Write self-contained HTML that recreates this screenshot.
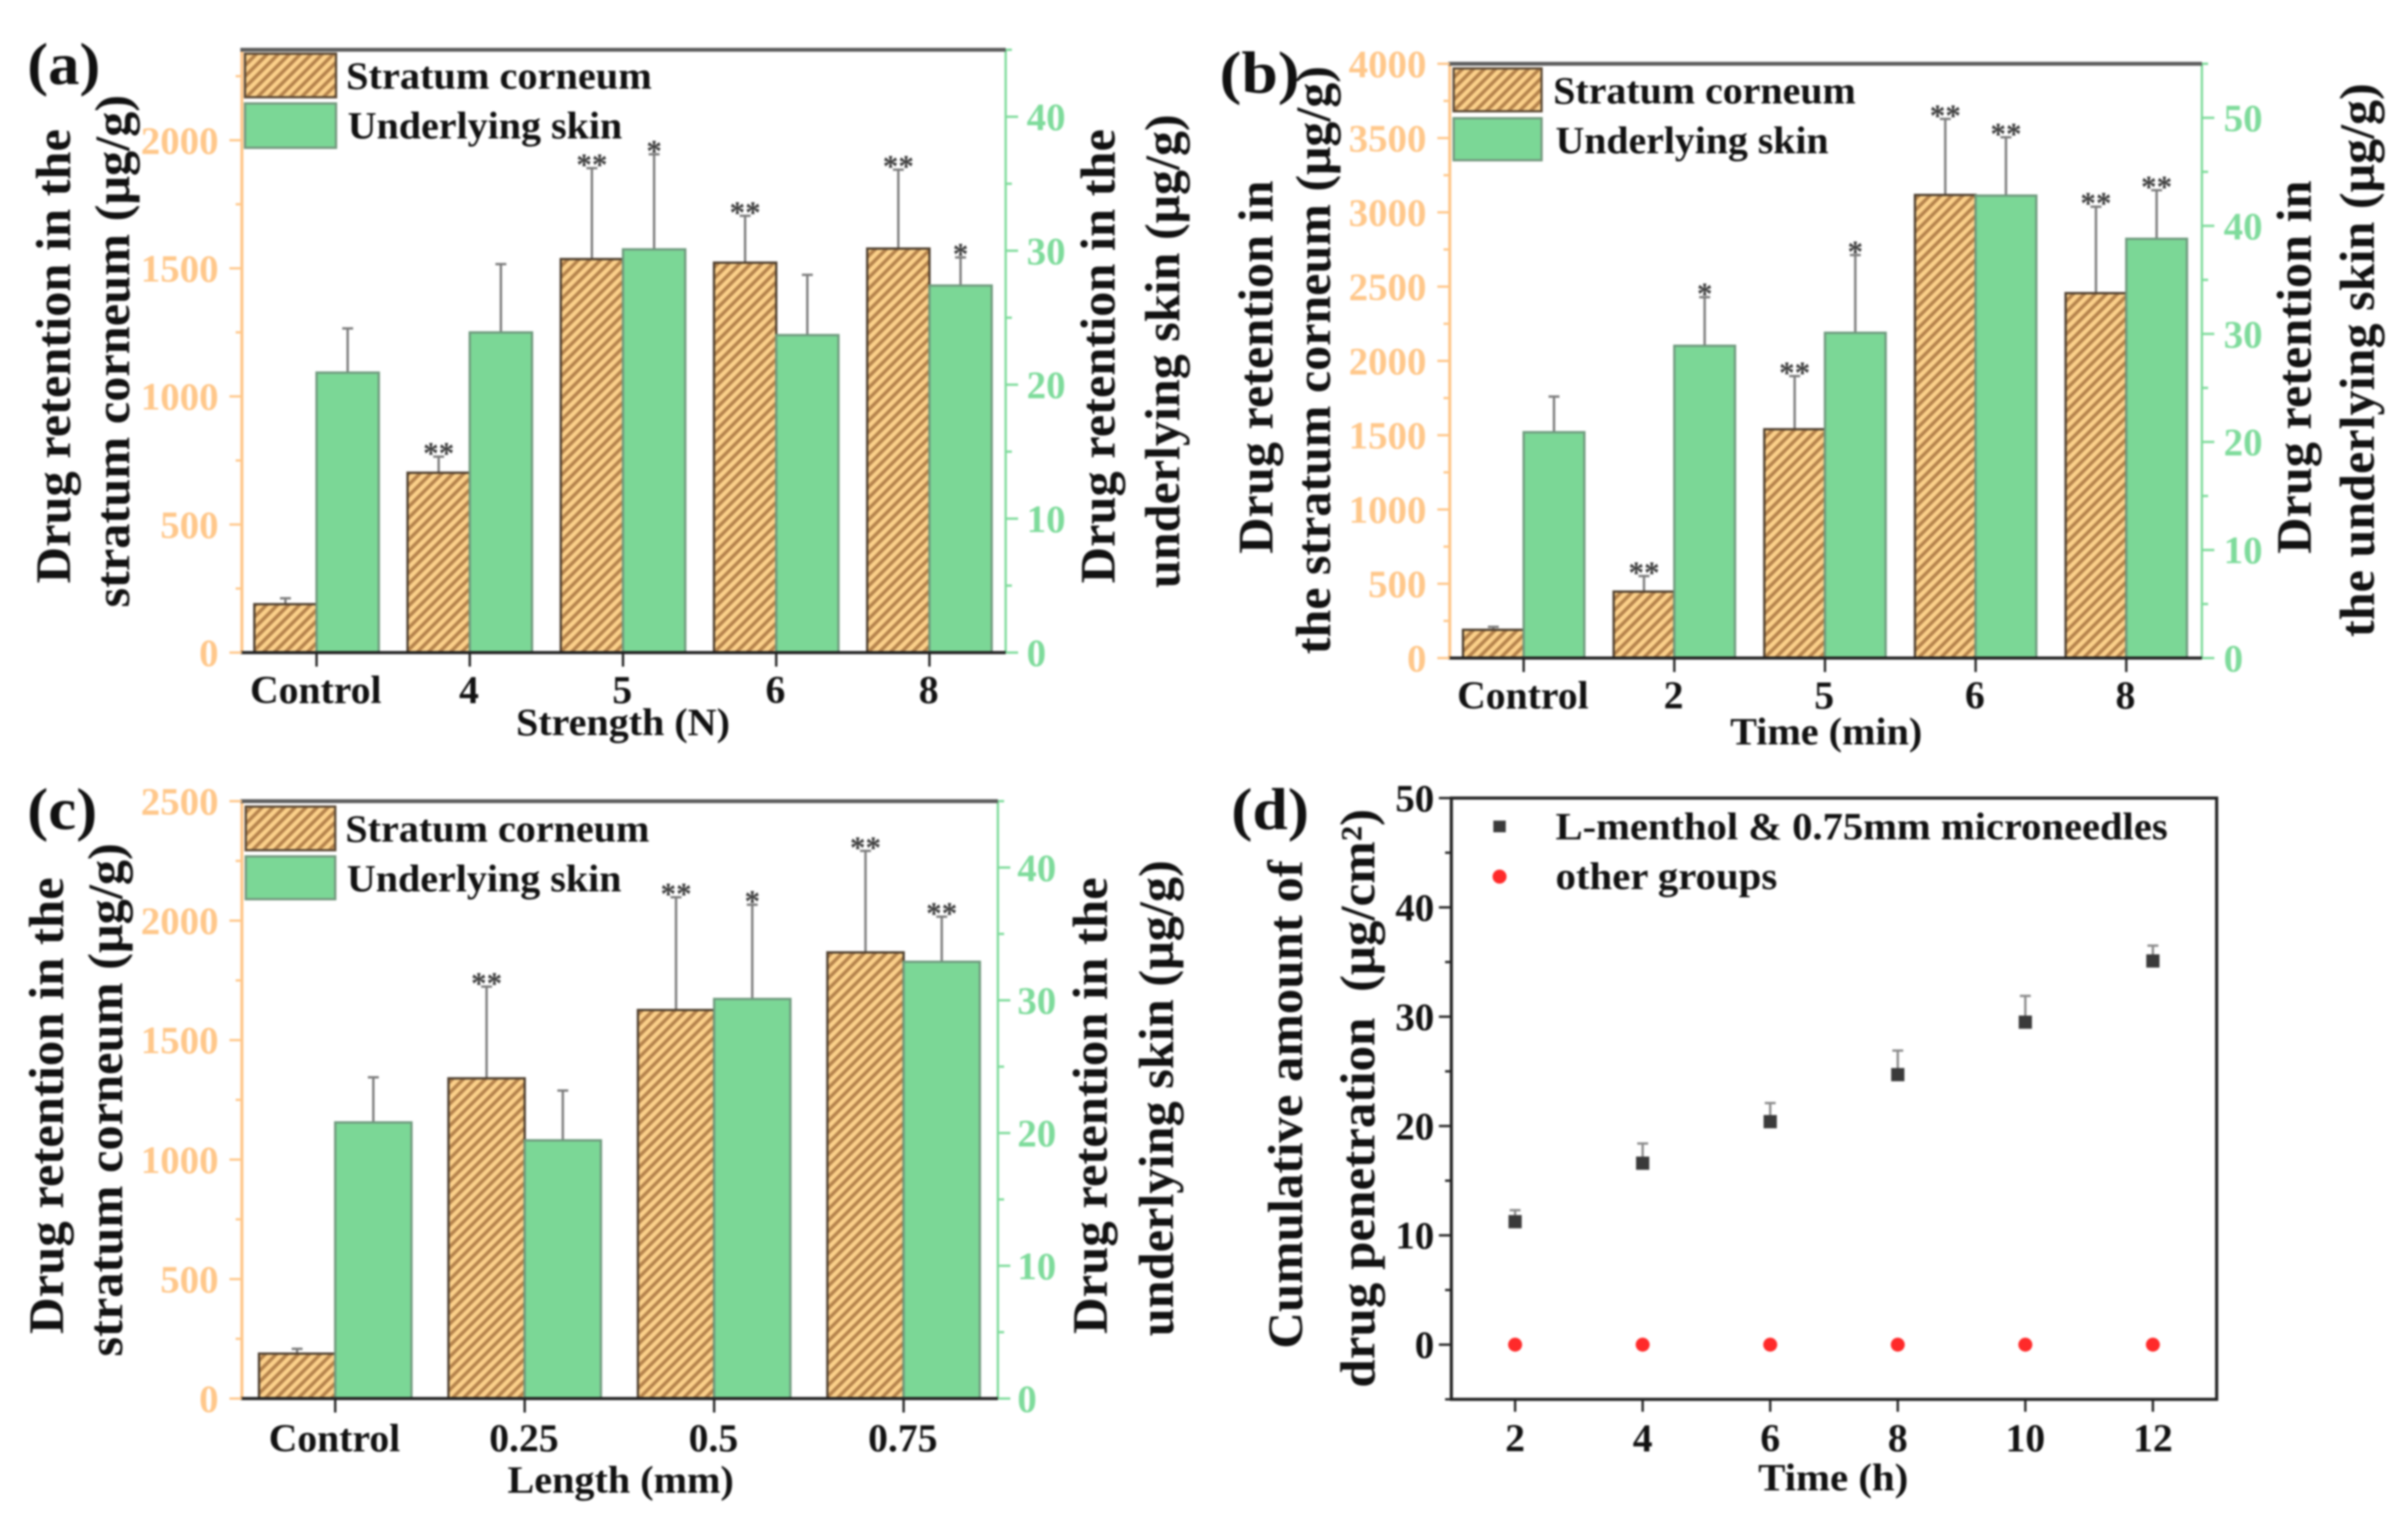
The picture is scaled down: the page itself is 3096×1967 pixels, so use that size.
<!DOCTYPE html>
<html>
<head>
<meta charset="utf-8">
<style>
html,body{margin:0;padding:0;background:#fff;width:3096px;height:1967px;overflow:hidden}
svg{display:block;filter:blur(1.2px)}
text{font-family:"Liberation Serif",serif;font-weight:bold;fill:#111}
</style>
</head>
<body>
<svg id="figure" xmlns="http://www.w3.org/2000/svg" width="3096" height="1967" viewBox="0 0 3096 1967">
<defs>
<pattern id="hatch" patternUnits="userSpaceOnUse" width="10" height="10" patternTransform="rotate(45)">
<rect width="10" height="10" fill="#fbd08a"></rect>
<rect x="0" width="4.5" height="10" fill="#b5834c"></rect>
</pattern>
</defs>
<rect width="3096" height="1967" fill="#ffffff"></rect>

<text x="35" y="108" font-size="76" textLength="94" lengthAdjust="spacingAndGlyphs">(a)</text>
<text x="1568" y="119" font-size="76" textLength="103" lengthAdjust="spacingAndGlyphs">(b)</text>
<text x="35" y="1066" font-size="76" textLength="90" lengthAdjust="spacingAndGlyphs">(c)</text>
<text x="1583" y="1066" font-size="76" textLength="100" lengthAdjust="spacingAndGlyphs">(d)</text>

<text transform="translate(90 750) rotate(-90)" font-size="64" textLength="584" lengthAdjust="spacingAndGlyphs">Drug retention in the</text>
<text transform="translate(166 781) rotate(-90)" font-size="64" textLength="659" lengthAdjust="spacingAndGlyphs">stratum corneum (μg/g)</text>
<text transform="translate(1433 750) rotate(-90)" font-size="64" textLength="584" lengthAdjust="spacingAndGlyphs">Drug retention in the</text>
<text transform="translate(1516 756) rotate(-90)" font-size="64" textLength="609" lengthAdjust="spacingAndGlyphs">underlying skin (μg/g)</text>

<text transform="translate(1636 712) rotate(-90)" font-size="64" textLength="480" lengthAdjust="spacingAndGlyphs">Drug retention in</text>
<text transform="translate(1710 841) rotate(-90)" font-size="64" textLength="756" lengthAdjust="spacingAndGlyphs">the stratum corneum (μg/g)</text>
<text transform="translate(2971 712) rotate(-90)" font-size="64" textLength="480" lengthAdjust="spacingAndGlyphs">Drug retention in</text>
<text transform="translate(3052 819) rotate(-90)" font-size="64" textLength="712" lengthAdjust="spacingAndGlyphs">the underlying skin (μg/g)</text>

<text transform="translate(81 1715) rotate(-90)" font-size="64" textLength="587" lengthAdjust="spacingAndGlyphs">Drug retention in the</text>
<text transform="translate(157 1744) rotate(-90)" font-size="64" textLength="660" lengthAdjust="spacingAndGlyphs">stratum corneum (μg/g)</text>
<text transform="translate(1423 1715) rotate(-90)" font-size="64" textLength="587" lengthAdjust="spacingAndGlyphs">Drug retention in the</text>
<text transform="translate(1508 1718) rotate(-90)" font-size="64" textLength="612" lengthAdjust="spacingAndGlyphs">underlying skin (μg/g)</text>

<text transform="translate(1674 1734) rotate(-90)" font-size="64" textLength="628" lengthAdjust="spacingAndGlyphs">Cumulative amount of</text>
<text transform="translate(1767 1784) rotate(-90)" font-size="64" textLength="744" lengthAdjust="spacingAndGlyphs" xml:space="preserve">drug penetration  (μg/cm²)</text>

<text x="801" y="945" font-size="50" text-anchor="middle" textLength="275" lengthAdjust="spacingAndGlyphs">Strength (N)</text>
<text x="2348" y="957" font-size="50" text-anchor="middle" textLength="247" lengthAdjust="spacingAndGlyphs">Time (min)</text>
<text x="798" y="1919" font-size="50" text-anchor="middle" textLength="291" lengthAdjust="spacingAndGlyphs">Length (mm)</text>
<text x="2357" y="1916" font-size="50" text-anchor="middle" textLength="193" lengthAdjust="spacingAndGlyphs">Time (h)</text>

<g id="plots"></g>

<g>
<rect x="315" y="69" width="117" height="56" fill="url(#hatch)" stroke="#5d4a35" stroke-width="3"></rect>
<rect x="315" y="133" width="117" height="57" fill="#7bd796" stroke="#74997f" stroke-width="3"></rect>
<text x="445" y="114" font-size="50" textLength="393" lengthAdjust="spacingAndGlyphs">Stratum corneum</text>
<text x="447" y="178" font-size="50" textLength="353" lengthAdjust="spacingAndGlyphs">Underlying skin</text>
</g>
<g>
<rect x="1869" y="88" width="113" height="55" fill="url(#hatch)" stroke="#5d4a35" stroke-width="3"></rect>
<rect x="1869" y="152" width="113" height="54" fill="#7bd796" stroke="#74997f" stroke-width="3"></rect>
<text x="1997" y="133" font-size="50" textLength="389" lengthAdjust="spacingAndGlyphs">Stratum corneum</text>
<text x="2000" y="197" font-size="50" textLength="351" lengthAdjust="spacingAndGlyphs">Underlying skin</text>
</g>
<g>
<rect x="316" y="1037" width="115" height="56" fill="url(#hatch)" stroke="#5d4a35" stroke-width="3"></rect>
<rect x="316" y="1101" width="115" height="55" fill="#7bd796" stroke="#74997f" stroke-width="3"></rect>
<text x="444" y="1082" font-size="50" textLength="391" lengthAdjust="spacingAndGlyphs">Stratum corneum</text>
<text x="446" y="1146" font-size="50" textLength="353" lengthAdjust="spacingAndGlyphs">Underlying skin</text>
</g>
<g>
<rect x="1920" y="1055" width="16" height="15" fill="#3a3a3a"></rect>
<circle cx="1928" cy="1127" r="9" fill="#ff2a2a"></circle>
<text x="2000" y="1079" font-size="50" textLength="787" lengthAdjust="spacingAndGlyphs">L-menthol &amp; 0.75mm microneedles</text>
<text x="2000" y="1143" font-size="50" textLength="285" lengthAdjust="spacingAndGlyphs">other groups</text>
</g>
</svg>

<script>
// Panel (a) data
const aCategories = ['Control', '4', '5', '6', '8'];
const aStratum = [189, 702, 1536, 1522, 1577];
const aStratumUpper = [212, 765, 1891, 1705, 1885];
const aUnderlying = [20.9, 23.9, 30.1, 23.7, 27.4];
const aUnderlyingUpper = [24.2, 29, 37.2, 28.2, 29.5];
const aStratumStars = ['', '**', '**', '**', '**'];
const aUnderlyingStars = ['', '', '*', '', '*'];
const aLeftTicks = [0, 500, 1000, 1500, 2000];
const aLeftMinor = [250, 750, 1250, 1750, 2250];
const aRightTicks = [0, 10, 20, 30, 40];
const aRightMinor = [5, 15, 25, 35, 45];

// Panel (b) data
const bCategories = ['Control', '2', '5', '6', '8'];
const bStratum = [190, 447, 1540, 3117, 2456];
const bStratumUpper = [210, 552, 1898, 3629, 3038];
const bUnderlying = [20.9, 28.9, 30.1, 42.8, 38.8];
const bUnderlyingUpper = [24.2, 33.4, 37.3, 48.2, 43.3];
const bStratumStars = ['', '**', '**', '**', '**'];
const bUnderlyingStars = ['', '*', '*', '**', '**'];
const bLeftTicks = [0, 500, 1000, 1500, 2000, 2500, 3000, 3500, 4000];
const bLeftMinor = [250, 750, 1250, 1750, 2250, 2750, 3250, 3750];
const bRightTicks = [0, 10, 20, 30, 40, 50];
const bRightMinor = [5, 15, 25, 35, 45, 55];

// Panel (c) data
const cCategories = ['Control', '0.25', '0.5', '0.75'];
const cStratum = [188, 1340, 1626, 1867];
const cStratumUpper = [208, 1724, 2098, 2292];
const cUnderlying = [20.8, 19.45, 30.1, 32.9];
const cUnderlyingUpper = [24.2, 23.2, 37.2, 36.3];
const cStratumStars = ['', '**', '**', '**'];
const cUnderlyingStars = ['', '', '*', '**'];
const cLeftTicks = [0, 500, 1000, 1500, 2000, 2500];
const cLeftMinor = [250, 750, 1250, 1750, 2250];
const cRightTicks = [0, 10, 20, 30, 40];
const cRightMinor = [5, 15, 25, 35, 45];

// Panel (d) data
const dHours = [2, 4, 6, 8, 10, 12];
const dMenthol = [11.25, 16.6, 20.4, 24.7, 29.5, 35.1];
const dMentholUpper = [12.3, 18.4, 22.1, 26.9, 31.9, 36.5];
const dOther = [0, 0, 0, 0, 0, 0];
const dYTicks = [0, 10, 20, 30, 40, 50];
const dYMinor = [-5, 5, 15, 25, 35, 45];

const SVGNS = 'http://www.w3.org/2000/svg';
const root = document.getElementById('plots');
const ORANGE = '#ffc78a';
const GREEN = '#7edb9b';

function mk(tag, parent, attrs, txt) {
  const el = document.createElementNS(SVGNS, tag);
  for (const k in attrs) el.setAttribute(k, attrs[k]);
  if (txt !== undefined) el.textContent = txt;
  parent.appendChild(el);
  return el;
}
function scale(d0, d1, r0, r1) {
  return v => r0 + (v - d0) * (r1 - r0) / (d1 - d0);
}

function barPanel(id, box, cats, sv, su, uv, uu, ss, us, lt, lm, rt, rm) {
  const g = mk('g', root, {});
  
  
  const yL = scale(0, box.leftMax, box.bottom, box.top);
  const yR = scale(0, box.rightMax, box.bottom, box.top);
  const xC = i => box.first + i * box.step;

  function drawBar(i, x, y, fill, stroke, name) {
    const r = mk('rect', g, { x: x, y: y, width: box.bar, height: box.bottom - y, fill: fill, stroke: stroke, 'stroke-width': 3 });
    
    
  }
  function drawErr(cx, yTop, yBase, name) {
    const l = mk('line', g, { x1: cx, x2: cx, y1: yBase, y2: yTop, stroke: '#7a7a7a', 'stroke-width': 3 });
    
    
    const c = mk('line', g, { x1: cx - 7, x2: cx + 7, y1: yTop, y2: yTop, stroke: '#7a7a7a', 'stroke-width': 3 });
    
    
  }
  function drawStar(cx, yTop, s, name) {
    if (!s) return;
    const t = mk('text', g, { x: cx, y: yTop + 9, 'font-size': 40, 'text-anchor': 'middle', style: 'fill:#3c3c3c' }, s);
    
    
  }

  cats.forEach((c, i) => {
    const cx = xC(i);
    drawErr(cx - box.bar / 2, yL(su[i]), yL(sv[i]), 'error-bar-stratum-' + i);
    drawErr(cx + box.bar / 2, yR(uu[i]), yR(uv[i]), 'error-bar-underlying-' + i);
    drawBar(i, cx - box.bar, yL(sv[i]), 'url(#hatch)', '#4e3f2f', 'bar-stratum-' + i);
    drawBar(i, cx, yR(uv[i]), '#7bd796', '#6f9a7e', 'bar-underlying-' + i);
    drawStar(cx - box.bar / 2, yL(su[i]), ss[i], 'significance-stratum-' + i);
    drawStar(cx + box.bar / 2, yR(uu[i]), us[i], 'significance-underlying-' + i);
    const tick = mk('line', g, { x1: cx, x2: cx, y1: box.bottom, y2: box.bottom + 18, stroke: '#222', 'stroke-width': 3 });
    
    
    const lab = mk('text', g, { x: cx + box.labelShift, y: box.catY, 'font-size': 51, 'text-anchor': 'middle' }, c);
    
    
  });

  // axes
  const axL = mk('line', g, { x1: box.left, x2: box.left, y1: box.top, y2: box.bottom, stroke: ORANGE, 'stroke-width': 4 });
  
  
  const axR = mk('line', g, { x1: box.right, x2: box.right, y1: box.top, y2: box.bottom, stroke: GREEN, 'stroke-width': 3 });
  
  
  const axT = mk('line', g, { x1: box.left - 2, x2: box.right, y1: box.top, y2: box.top, stroke: '#5c5c5c', 'stroke-width': 5 });
  
  
  const axB = mk('line', g, { x1: box.left - 2, x2: box.right, y1: box.bottom, y2: box.bottom, stroke: '#222', 'stroke-width': 4 });
  
  

  lt.forEach(v => {
    const t = mk('line', g, { x1: box.left - 16, x2: box.left, y1: yL(v), y2: yL(v), stroke: ORANGE, 'stroke-width': 3 });
    
    
    const l = mk('text', g, { x: box.leftLabel, y: yL(v) + 17, 'font-size': 50, 'text-anchor': 'end', style: 'fill:' + ORANGE }, String(v));
    
    
  });
  lm.forEach(v => {
    const t = mk('line', g, { x1: box.left - 8, x2: box.left, y1: yL(v), y2: yL(v), stroke: ORANGE, 'stroke-width': 3 });
    
    
  });
  rt.forEach(v => {
    const t = mk('line', g, { x1: box.right, x2: box.right + 16, y1: yR(v), y2: yR(v), stroke: GREEN, 'stroke-width': 3 });
    
    
    const l = mk('text', g, { x: box.rightLabel, y: yR(v) + 17, 'font-size': 50, style: 'fill:' + GREEN }, String(v));
    
    
  });
  rm.forEach(v => {
    const t = mk('line', g, { x1: box.right, x2: box.right + 8, y1: yR(v), y2: yR(v), stroke: GREEN, 'stroke-width': 3 });
    
    
  });
}

barPanel('a', { left: 311, right: 1293, top: 64, bottom: 839, leftMax: 2353, rightMax: 45, first: 407, step: 197, bar: 80, catY: 904, leftLabel: 281, rightLabel: 1320, labelShift: -1 },
  aCategories, aStratum, aStratumUpper, aUnderlying, aUnderlyingUpper, aStratumStars, aUnderlyingStars, aLeftTicks, aLeftMinor, aRightTicks, aRightMinor);
barPanel('b', { left: 1864, right: 2831, top: 82, bottom: 846, leftMax: 4000, rightMax: 55, first: 1959, step: 193.7, bar: 78, catY: 911, leftLabel: 1834, rightLabel: 2859, labelShift: -1 },
  bCategories, bStratum, bStratumUpper, bUnderlying, bUnderlyingUpper, bStratumStars, bUnderlyingStars, bLeftTicks, bLeftMinor, bRightTicks, bRightMinor);
barPanel('c', { left: 311, right: 1283, top: 1030, bottom: 1798, leftMax: 2500, rightMax: 45, first: 431, step: 243.6, bar: 98, catY: 1866, leftLabel: 281, rightLabel: 1308, labelShift: -1 },
  cCategories, cStratum, cStratumUpper, cUnderlying, cUnderlyingUpper, cStratumStars, cUnderlyingStars, cLeftTicks, cLeftMinor, cRightTicks, cRightMinor);

// Panel (d) scatter
(function () {
  const g = mk('g', root, {});
  
  
  const L = 1866, R = 2850, T = 1026, B = 1799;
  const x = scale(1, 13, L, R);
  const y = scale(-5, 50, B, T);

  const frame = mk('rect', g, { x: L, y: T, width: R - L, height: B - T, fill: 'none', stroke: '#222', 'stroke-width': 4 });
  
  

  dYTicks.forEach(v => {
    const t = mk('line', g, { x1: L - 16, x2: L, y1: y(v), y2: y(v), stroke: '#222', 'stroke-width': 3 });
    
    
    const l = mk('text', g, { x: 1844, y: y(v) + 17, 'font-size': 50, 'text-anchor': 'end' }, String(v));
    
    
  });
  dYMinor.forEach(v => {
    const t = mk('line', g, { x1: L - 8, x2: L, y1: y(v), y2: y(v), stroke: '#222', 'stroke-width': 3 });
    
    
  });

  dHours.forEach((h, i) => {
    const cx = x(h);
    const t = mk('line', g, { x1: cx, x2: cx, y1: B, y2: B + 16, stroke: '#222', 'stroke-width': 3 });
    
    
    const l = mk('text', g, { x: cx, y: 1866, 'font-size': 51, 'text-anchor': 'middle' }, String(h));
    
    

    const e = mk('line', g, { x1: cx, x2: cx, y1: y(dMenthol[i]), y2: y(dMentholUpper[i]), stroke: '#8a8a8a', 'stroke-width': 3 });
    
    
    const c = mk('line', g, { x1: cx - 7, x2: cx + 7, y1: y(dMentholUpper[i]), y2: y(dMentholUpper[i]), stroke: '#8a8a8a', 'stroke-width': 3 });
    
    
    const m = mk('rect', g, { x: cx - 8.5, y: y(dMenthol[i]) - 8.5, width: 17, height: 17, fill: '#3a3a3a' });
    
    
    const o = mk('circle', g, { cx: cx, cy: y(dOther[i]), r: 9, fill: '#ff2a2a' });
    
    
  });
})();
</script>
</body>
</html>
